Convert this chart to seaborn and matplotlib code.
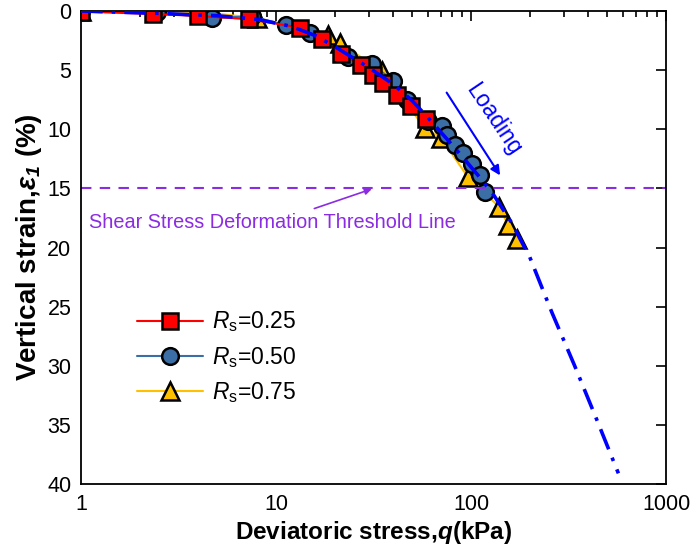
import matplotlib
matplotlib.use("Agg")
import matplotlib.pyplot as plt
import pandas as pd
import seaborn as sns

# data
q_025 = [1.0, 2.35, 4.0, 7.3, 13.2, 17.3, 21.6, 27.3, 31.4, 35.5, 41.9, 49.5, 58.5]
e_025 = [0.05, 0.25, 0.42, 0.7, 1.4, 2.4, 3.6, 4.6, 5.4, 6.1, 7.1, 8.0, 9.1]

q_050 = [1.0, 2.45, 4.7, 7.5, 11.2, 15.0, 23.5, 31.0, 40.0, 47.0, 60.0, 71, 75, 83, 91, 101, 111, 118]
e_050 = [0.0, 0.1, 0.6, 0.45, 1.2, 1.9, 3.9, 4.5, 5.9, 7.5, 9.3, 9.7, 10.5, 11.3, 12.0, 12.9, 13.9, 15.3]

q_075 = [1.0, 4.5, 8.0, 18.5, 21.2, 35, 58, 70, 96, 140, 155, 173]
e_075 = [0.0, 0.15, 0.6, 2.0, 2.7, 5.1, 9.9, 10.7, 14.0, 16.6, 18.1, 19.3]

# fitted / extrapolated trend
q_fit = [1, 2.5, 5, 8, 12, 16, 20, 25, 30, 40, 50, 60, 75, 90, 110, 130, 160, 200, 260, 340, 440, 570]
e_fit = [0, 0.2, 0.4, 0.7, 1.3, 2.1, 3.0, 4.0, 4.8, 6.2, 7.6, 9.0, 10.8, 12.3, 14.0, 15.5, 17.8, 20.8, 25.5, 30.0, 34.5, 39.1]

threshold = 15
x_ticks = [1, 10, 100, 1000]
y_ticks = [0, 5, 10, 15, 20, 25, 30, 35, 40]

sns.set_style("white")
plt.rcParams['font.family'] = ['Liberation Sans', 'DejaVu Sans']
plt.rcParams['mathtext.fontset'] = 'custom'
plt.rcParams['mathtext.rm'] = 'Liberation Sans'
plt.rcParams['mathtext.it'] = 'Liberation Sans:italic'
plt.rcParams['mathtext.bf'] = 'Liberation Sans:bold:italic'
plt.rcParams['text.color'] = 'black'
plt.rcParams['axes.labelcolor'] = 'black'
plt.rcParams['xtick.color'] = 'black'
plt.rcParams['ytick.color'] = 'black'

fig = plt.figure(figsize=(6.94, 5.5), dpi=100)
ax = fig.add_axes([81/694, 1 - 484/550, 585/694, 473/550])

series = [
    (q_075, e_075, '$R_\\mathrm{s}$=0.75', '#FFC000', '^', 13),
    (q_050, e_050, '$R_\\mathrm{s}$=0.50', '#3B6EA5', 'o', 12),
    (q_025, e_025, '$R_\\mathrm{s}$=0.25', '#FF0000', 's', 11),
]
for qv, ev, lab, col, mk, ms in series:
    d = pd.DataFrame({'q': qv, 'e': ev})
    sns.lineplot(data=d, x='q', y='e', ax=ax, sort=False, estimator=None,
                 color=col, lw=1.5, marker=mk, markersize=ms,
                 markerfacecolor=col, markeredgecolor='black', markeredgewidth=1.8,
                 label=lab)

fit = pd.DataFrame({'q': q_fit, 'e': e_fit})
sns.lineplot(data=fit, x='q', y='e', ax=ax, sort=False, estimator=None,
             color='#0000FF', lw=2.6, linestyle=(0, (6, 2.5, 1, 2.5)), zorder=5)

ax.axhline(threshold, color='#8B2BE2', lw=1.5, ls=(0, (5, 4)))
ax.annotate('Shear Stress Deformation Threshold Line', xy=(31, 15.05), xytext=(84, 17.9),
            ha='right', va='center', color='#8B2BE2', fontsize=14.3,
            arrowprops=dict(arrowstyle='-|>', color='#8B2BE2', lw=1.2, mutation_scale=10,
                            shrinkA=3, shrinkB=0))

# loading arrow
ax.annotate('', xy=(141, 13.9), xytext=(75, 6.9),
            arrowprops=dict(arrowstyle='-|>', color='#0000FF', lw=1.5, mutation_scale=14,
                            shrinkA=0, shrinkB=0))
ax.text(131, 9.2, 'Loading', color='#0000FF', fontsize=16.5, rotation=-56,
        ha='center', va='center')

ax.set_xscale('log')
ax.set_xlim(1, 1000)
ax.set_ylim(40, 0)
ax.set_xticks(x_ticks)
ax.set_xticklabels([str(t) for t in x_ticks])
ax.set_yticks(y_ticks)
ax.tick_params(which='both', direction='in', top=True, right=True, labelsize=15.5, width=1.2)
ax.tick_params(which='major', length=7, pad=7)
ax.tick_params(which='minor', length=4)
for s in ax.spines.values():
    s.set_linewidth(1.3)
    s.set_color('black')

ax.set_xlabel('Deviatoric stress,$\\mathbf{q}$(kPa)', fontsize=17.5, fontweight='bold', labelpad=3)
ax.set_ylabel('Vertical strain,$\\mathbf{\\varepsilon_1}$ (%)', fontsize=20, fontweight='bold', labelpad=2)

h, l = ax.get_legend_handles_labels()
ax.legend(h[:3][::-1], l[:3][::-1], loc='center left', bbox_to_anchor=(0.06, 0.268),
          frameon=False, fontsize=16.5, handlelength=2.9, handletextpad=0.4, labelspacing=0.45)

fig.savefig('out.png', dpi=100)
